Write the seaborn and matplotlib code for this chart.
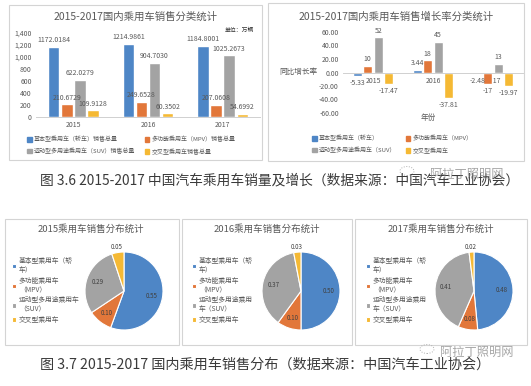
import matplotlib
matplotlib.use('Agg')
import matplotlib.pyplot as plt
import seaborn as sns
import pandas as pd
import numpy as np
from matplotlib.patches import Rectangle, Patch, Ellipse

# ---------------- data ----------------
years = ['2015', '2016', '2017']
sales_types = ['基本型乘用车（轿车）销售总量', '多功能乘用车（MPV）销售总量',
               '运动型多用途乘用车（SUV）销售总量', '交叉型乘用车销售总量']
basic_sales = [1172.0184, 1214.9861, 1184.8001]
mpv_sales = [210.6729, 249.6528, 207.0608]
suv_sales = [622.0279, 904.7030, 1025.2673]
cross_sales = [109.9128, 60.3502, 54.6992]
sales_ticks = [0, 200, 400, 600, 800, 1000, 1200, 1400]

growth_types = ['基本型乘用车（轿车）', '多功能乘用车（MPV）',
                '运动型多用途乘用车（SUV）', '交叉型乘用车']
basic_growth = [-5.33, 3.44, -2.48]
mpv_growth = [10, 18, -17]
suv_growth = [52, 45, 13]
cross_growth = [-17.47, -37.81, -19.97]
growth_ticks = [-60, -40, -20, 0, 20, 40, 60]

pie_labels_2015 = ['基本型乘用车（轿\n车）', '多功能乘用车\n（MPV）', '运动型多用途乘用车\n（SUV）', '交叉型乘用车']
pie_labels_2016 = ['基本型乘用车（轿\n车）', '多功能乘用车\n（MPV）', '运动型多用途乘用\n车（SUV）', '交叉型乘用车']
pie_labels_2017 = ['基本型乘用车（轿\n车）', '多功能乘用车\n（MPV）', '运动型多用途乘用\n车（SUV）', '交叉型乘用车']
share_2015 = [0.55, 0.10, 0.29, 0.05]
share_2016 = [0.50, 0.10, 0.37, 0.03]
share_2017 = [0.48, 0.08, 0.41, 0.02]

colors = ['#4E86C6', '#E2773A', '#A3A3A3', '#F5B934']
txt = '#595959'

# ---------------- setup ----------------
sns.set_theme(style='white')
plt.rcParams['font.family'] = ['Noto Sans CJK SC', 'DejaVu Sans']
plt.rcParams['axes.unicode_minus'] = False

W, H = 531, 386
fig = plt.figure(figsize=(W / 100, H / 100), dpi=100)
fig.patch.set_facecolor('white')


def box(x0, y0, x1, y1):
    return [x0 / W, 1 - y1 / H, (x1 - x0) / W, (y1 - y0) / H]


def fx(x):
    return x / W


def fy(y):
    return 1 - y / H


def frame(x0, y0, x1, y1):
    fig.add_artist(Rectangle((fx(x0), fy(y1)), (x1 - x0) / W, (y1 - y0) / H,
                             transform=fig.transFigure, fill=False,
                             ec='#d4d4d4', lw=0.8))


frame(9, 5, 262, 160)
frame(268, 3, 524, 161)
frame(5, 219, 179, 345)
frame(182, 219, 352, 345)
frame(355, 219, 527, 345)

# ---------------- chart 1: sales ----------------
df1 = pd.DataFrame({
    'year': years * 4,
    'type': np.repeat(sales_types, 3),
    'value': basic_sales + mpv_sales + suv_sales + cross_sales,
})
ax1 = fig.add_axes(box(36, 33, 260, 117))
sns.barplot(data=df1, x='year', y='value', hue='type', hue_order=sales_types,
            palette=colors, width=0.7, gap=0.12, saturation=1, legend=False, ax=ax1)
ax1.set_ylim(0, 1400)
ax1.set_yticks(sales_ticks)
ax1.set_yticklabels([f'{v:,}' for v in sales_ticks])
ax1.set_xlabel('')
ax1.set_ylabel('')
for s in ['top', 'right', 'left']:
    ax1.spines[s].set_visible(False)
ax1.spines['bottom'].set_color('#d0d0d0')
ax1.spines['bottom'].set_linewidth(0.7)
ax1.tick_params(axis='both', labelsize=5, colors=txt, length=0, pad=3)
ax1.set_facecolor('none')
for cont in ax1.containers:
    ax1.bar_label(cont, labels=[f'{b.get_height():.4f}' for b in cont],
                  fontsize=5, color=txt, padding=2)
fig.text(fx(136), fy(17), '2015-2017国内乘用车销售分类统计', ha='center', va='center',
         fontsize=7.5, color=txt)
fig.text(fx(254), fy(30), '单位：万辆', ha='right', va='center', fontsize=4.2, color='#333333')
h1 = [Patch(color=c) for c in colors]
order = [0, 2, 1, 3]
fig.legend([h1[i] for i in order], [sales_types[i] for i in order], ncol=2,
           loc='upper left', bbox_to_anchor=(fx(22), fy(131)), frameon=False,
           fontsize=4.3, handlelength=0.7, handleheight=0.7, handletextpad=0.4,
           columnspacing=1.6, labelspacing=0.9, labelcolor=txt)

# ---------------- chart 2: growth ----------------
df2 = pd.DataFrame({
    'year': years * 4,
    'type': np.repeat(growth_types, 3),
    'value': basic_growth + mpv_growth + suv_growth + cross_growth,
})
ax2 = fig.add_axes(box(343, 32, 523, 113))
sns.barplot(data=df2, x='year', y='value', hue='type', hue_order=growth_types,
            palette=colors, width=0.7, gap=0.12, saturation=1, legend=False, ax=ax2)
ax2.set_ylim(-60, 60)
ax2.set_yticks(growth_ticks)
ax2.set_yticklabels([f'{v:.2f}' for v in growth_ticks])
ax2.set_xlabel('')
ax2.set_ylabel('')
for s in ['top', 'right', 'left']:
    ax2.spines[s].set_visible(False)
ax2.spines['bottom'].set_position(('data', 0))
ax2.spines['bottom'].set_color('#d0d0d0')
ax2.spines['bottom'].set_linewidth(0.7)
ax2.tick_params(axis='both', labelsize=5, colors=txt, length=0, pad=3)
ax2.set_facecolor('none')
for cont in ax2.containers:
    vals = [(b.get_y() + b.get_height()) if b.get_y() == 0 else b.get_y() for b in cont]
    ax2.bar_label(cont, labels=[f'{v:g}' for v in vals],
                  fontsize=5, color=txt, padding=2)
fig.text(fx(396), fy(17), '2015-2017国内乘用车销售增长率分类统计', ha='center', va='center',
         fontsize=7.5, color=txt)
fig.text(fx(298), fy(72), '同比增长率', ha='center', va='center', fontsize=5.5, color=txt)
fig.text(fx(428), fy(118), '年份', ha='center', va='center', fontsize=5.5, color=txt)
fig.legend([h1[i] for i in order], [growth_types[i] for i in order], ncol=2,
           loc='upper left', bbox_to_anchor=(fx(307), fy(130)), frameon=False,
           fontsize=4.3, handlelength=0.7, handleheight=0.7, handletextpad=0.4,
           columnspacing=1.6, labelspacing=0.9, labelcolor=txt)

# ---------------- captions ----------------
fig.text(fx(40), fy(180), '图 3.6 2015-2017 中国汽车乘用车销量及增长（数据来源：中国汽车工业协会）',
         ha='left', va='center', fontsize=9.9, color='#3a3a3a')
fig.text(fx(40), fy(365), '图 3.7 2015-2017 国内乘用车销售分布（数据来源：中国汽车工业协会）',
         ha='left', va='center', fontsize=10.2, color='#3a3a3a')
for (wx, wy, ix, iy) in [(430, 174, 407, 171), (440, 352, 427, 349)]:
    fig.text(fx(wx), fy(wy), '阿拉丁照明网', ha='left', va='center', fontsize=8.8,
             color='#8a8a8a', alpha=0.75)
    fig.add_artist(Ellipse((fx(ix), fy(iy)), 14 / W, 9 / H, transform=fig.transFigure,
                           fill=False, ec='#b0b0b0', lw=0.7, ls=':'))

# ---------------- pies ----------------
pies = [
    ('2015乘用车销售分布统计', share_2015, pie_labels_2015, 124, 91, 6),
    ('2016乘用车销售分布统计', share_2016, pie_labels_2016, 301, 267, 186),
    ('2017乘用车销售分布统计', share_2017, pie_labels_2017, 474, 441, 360),
]
R = 39
cy = 291
for title, shares, labs, cx, tx, lx in pies:
    ax = fig.add_axes(box(cx - R, cy - R, cx + R, cy + R))
    wedges, _ = ax.pie(shares, colors=colors, startangle=90, counterclock=False,
                       wedgeprops=dict(edgecolor='white', linewidth=0.8))
    ax.set_xlim(-1, 1)
    ax.set_ylim(-1, 1)
    ax.set_aspect('equal')
    for w, v in zip(wedges, shares):
        ang = np.deg2rad((w.theta1 + w.theta2) / 2)
        r = 0.72 if v > 0.06 else 1.13
        ax.text(r * np.cos(ang), r * np.sin(ang), f'{v:.2f}', ha='center', va='center',
                fontsize=4.5, color='#404040')
    fig.text(fx(tx), fy(229), title, ha='center', va='center', fontsize=6.8, color=txt)
    fig.legend(wedges, labs, loc='upper left', bbox_to_anchor=(fx(lx), fy(251)),
               frameon=False, fontsize=4.9, handlelength=0.6, handleheight=0.6,
               handletextpad=0.4, labelspacing=0.35, labelcolor=txt)

fig.savefig('out.png', dpi=100, facecolor='white')
